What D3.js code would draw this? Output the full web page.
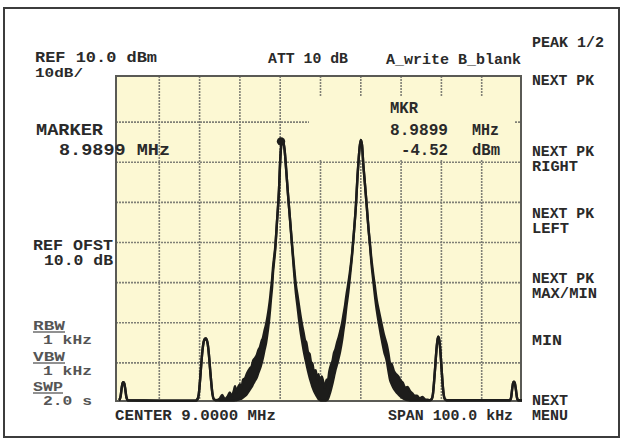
<!DOCTYPE html>
<html>
<head>
<meta charset="utf-8">
<script src="https://cdn.jsdelivr.net/npm/d3@7"></script>
<style>
    body { margin: 0; background: #ffffff; }
    svg { display: block; }
    .lbl { font-family: "Liberation Mono", "DejaVu Sans Mono", monospace; font-weight: bold; }
</style>
</head>
<body>
<svg id="chart"></svg>
<script>
//Trace values: offset from centre in kHz, peak-hold max and min in dBm.
var traceKHz = [-50.0, -49.9, -49.6, -49.3, -49.1, -48.9, -48.7, -48.45, -48.15, -47.8, -40.0, -31.0,
    -30.5, -30.2, -29.9, -29.6, -29.3, -29.0, -28.7, -28.5, -28.3, -28.0, -27.7, -27.4, -27.1, -26.8, -26.5, -26.0,
    -25.0, -24.4, -23.8, -23.0, -22.5, -22.0, -21.5, -21.2, -20.9, -20.5, -20.0, -19.6, -19.2, -18.7, -18.3, -17.9,
    -17.5, -17.1, -16.7, -16.25, -15.8, -15.4, -15.0, -14.6, -14.3, -13.9, -13.5, -13.1, -12.8, -12.5, -12.3, -12.0,
    -11.8, -11.5, -11.3, -10.8, -10.3, -10.05, -9.8, -9.55, -9.3, -8.9, -8.55, -8.05, -7.55, -7.05, -6.6, -6.1,
    -5.7, -5.35, -5.0, -4.6, -4.2, -3.85, -3.5, -3.1, -2.7, -2.35, -2.0, -1.6, -1.2, -0.85, -0.5, -0.1,
    0.3, 0.7, 1.1, 1.5, 1.85, 2.2, 2.6, 3.0, 3.35, 3.7, 4.1, 4.5, 4.85, 5.35, 5.7, 6.1, 6.45, 6.8, 7.3, 7.8,
    8.3, 8.8, 9.2, 9.45, 9.7, 10.0, 10.3, 10.6, 11.05, 11.45, 11.9, 12.3, 12.6, 12.95, 13.45, 13.95, 14.6, 15.2,
    15.8, 16.45, 16.85, 17.25, 17.7, 18.2, 18.75, 19.3, 19.9, 20.45, 21.0, 21.6, 22.2, 22.8, 23.4, 23.95, 24.6,
    25.3, 25.95, 26.6, 27.2, 27.6, 27.9, 28.2, 28.5, 28.75, 29.0, 29.23, 29.45, 29.7, 29.95, 30.25, 30.55, 30.85,
    31.3, 47.0, 47.3, 47.6, 47.8, 48.0, 48.2, 48.45, 48.75, 49.05, 50.0];

var traceMax = [-69.3, -69.2, -68.3, -66.0, -65.0, -64.8, -65.1, -66.5, -68.6, -69.3, -69.4, -69.4,
    -69.0, -67.8, -64.5, -60.5, -57.0, -54.8, -54.0, -53.9, -54.1, -55.2, -57.8, -61.5, -65.0, -67.8, -69.0, -69.3,
    -68.9, -68.0, -69.0, -68.3, -67.4, -68.3, -66.9, -65.8, -67.4, -66.2, -65.4, -66.0, -64.2, -63.8, -62.8, -62.0,
    -61.3, -60.9, -59.4, -58.8, -58.0, -56.8, -56.0, -54.5, -53.8, -52.0, -50.4, -48.2, -46.2, -43.8, -41.8, -39.0,
    -36.4, -33.6, -31.9, -24.9, -16.9, -10.7, -6.4, -4.7, -4.8, -7.0, -11.4, -18.2, -24.4, -30.6, -35.6, -40.6,
    -43.2, -45.6, -48.0, -50.4, -52.4, -54.3, -55.0, -57.3, -57.8, -59.8, -60.2, -62.3, -61.8, -64.0, -62.8, -65.2,
    -63.4, -64.8, -66.2, -64.2, -64.2, -62.0, -60.5, -59.4, -57.5, -56.6, -55.0, -53.7, -52.3, -50.1, -48.0, -45.6, -43.0, -40.8, -37.3, -33.1,
    -27.4, -20.6, -13.2, -9.5, -6.4, -4.45, -5.7, -10.2, -15.7, -20.6, -26.4, -30.6, -33.8, -36.8, -40.6, -44.3, -47.6, -50.5,
    -53.2, -55.5, -57.6, -60.0, -60.4, -62.0, -62.8, -63.4, -64.4, -65.0, -66.2, -66.0, -67.0, -67.6, -68.2, -68.2, -68.9,
    -68.5, -69.1, -69.2, -69.3, -69.0, -67.8, -64.5, -60.5, -57.0, -54.5, -53.5, -54.2, -56.5, -60.0, -64.5, -67.8, -69.0,
    -69.3, -69.3, -68.6, -66.2, -65.0, -64.7, -65.0, -66.4, -68.6, -69.3, -69.3];

var traceMin = [-69.3, -69.2, -68.3, -66.0, -65.0, -64.8, -65.1, -66.5, -68.6, -69.3, -69.4, -69.4,
    -69.0, -67.8, -64.5, -60.5, -57.0, -54.8, -54.0, -53.9, -54.1, -55.2, -57.8, -61.5, -65.0, -67.8, -69.0, -69.3,
    -69.4, -69.4, -69.4, -69.4, -69.4, -69.4, -69.4, -69.3, -69.3, -69.2, -69.0, -68.9, -68.6, -68.2, -67.8, -67.2,
    -66.6, -66.0, -65.2, -64.4, -63.6, -62.4, -61.4, -60.0, -58.8, -56.8, -55.0, -52.2, -49.8, -46.6, -44.2, -41.0,
    -37.8, -34.6, -32.6, -24.9, -16.9, -10.7, -6.4, -4.7, -4.8, -7.0, -11.4, -18.2, -24.4, -31.0, -36.8, -42.6,
    -46.0, -49.0, -51.8, -54.4, -56.8, -58.6, -60.2, -62.0, -63.6, -64.8, -66.0, -67.0, -67.8, -68.4, -69.0, -69.3,
    -69.4, -69.4, -69.4, -69.3, -69.0, -68.0, -66.6, -65.0, -63.4, -61.8, -60.4, -58.8, -57.2, -54.4, -51.8, -49.0, -45.8, -43.2, -38.6, -33.6,
    -27.4, -20.6, -13.2, -9.5, -6.4, -4.45, -5.7, -10.2, -15.7, -20.6, -26.4, -31.0, -34.8, -38.2, -42.8, -46.8, -50.8, -54.2,
    -57.2, -59.6, -62.0, -64.2, -65.4, -66.4, -67.2, -67.8, -68.4, -68.8, -69.1, -69.3, -69.4, -69.4, -69.4, -69.4, -69.4,
    -69.4, -69.4, -69.4, -69.3, -69.0, -67.8, -64.5, -60.5, -57.0, -54.5, -53.5, -54.2, -56.5, -60.0, -64.5, -67.8, -69.0,
    -69.3, -69.3, -68.6, -66.2, -65.0, -64.7, -65.0, -66.4, -68.6, -69.3, -69.3];

//Marker position as drawn on the screen.
var markerKHz = -9.8;
var markerDBm = -4.8;

//Grid divisions (kHz across, dBm down).
var xGrid = [-40, -30, -20, -10, 0, 10, 20, 30, 40];
var yGrid = [0, -10, -20, -30, -40, -50, -60];

//Texts on the screen.
var headerTexts = ["REF 10.0 dBm", "10dB/", "ATT 10 dB", "A_write B_blank"];
var markerTexts = ["MARKER", "8.9899 MHz"];
var readoutTexts = ["MKR", "8.9899", "MHz", "-4.52", "dBm"];
var softKeys = [["PEAK 1/2"], ["NEXT PK"], ["NEXT PK", "RIGHT"], ["NEXT PK", "LEFT"],
    ["NEXT PK", "MAX/MIN"], ["MIN"], ["NEXT", "MENU"]];
var offsetTexts = ["REF OFST", "10.0 dB"];
var bwNames = ["RBW", "VBW", "SWP"];
var bwValues = ["1 kHz", "1 kHz", "2.0 s"];
var footerTexts = ["CENTER 9.0000 MHz", "SPAN 100.0 kHz"];

(function () {

    var width = 623,
        height = 439;

    var svg = d3.select("#chart")
        .attr("width", width)
        .attr("height", height);

    //Scales for the screen: 100 kHz span and 10 dB per division.
    var x = d3.scaleLinear().domain([-50, 50]).range([119, 522]);
    var y = d3.scaleLinear().domain([10, -70]).range([82, 403]);

    var frameLeft = 116, frameRight = 521, frameTop = 76, frameBottom = 401;
    var screenColor = "#fcf8d3";
    var gridColor = "#808076";
    var inkColor = "#1d1d1b";

    //Outer border of the photo.
    svg.append("rect")
        .attr("x", 4)
        .attr("y", 8)
        .attr("width", 615)
        .attr("height", 429)
        .attr("fill", "none")
        .attr("stroke", "#3c3c3c")
        .attr("stroke-width", 2);

    //Screen background.
    svg.append("rect")
        .attr("x", frameLeft)
        .attr("y", frameTop)
        .attr("width", frameRight - frameLeft)
        .attr("height", frameBottom - frameTop)
        .attr("fill", screenColor);

    //Grid lines.
    var grid = svg.append("g")
        .attr("stroke", gridColor)
        .attr("stroke-width", 1.6)
        .attr("stroke-dasharray", "2,1");

    grid.selectAll(".vline")
        .data(xGrid)
        .enter()
        .append("line")
        .attr("class", "vline")
        .attr("x1", function (d) { return x(d); })
        .attr("x2", function (d) { return x(d); })
        .attr("y1", frameTop)
        .attr("y2", frameBottom);

    grid.selectAll(".hline")
        .data(yGrid)
        .enter()
        .append("line")
        .attr("class", "hline")
        .attr("x1", frameLeft)
        .attr("x2", frameRight)
        .attr("y1", function (d) { return y(d); })
        .attr("y2", function (d) { return y(d); });

    //Blank area behind the marker readout.
    svg.append("rect")
        .attr("x", 309)
        .attr("y", 97)
        .attr("width", 206)
        .attr("height", 63)
        .attr("fill", screenColor);

    //Screen frame.
    svg.append("rect")
        .attr("x", frameLeft)
        .attr("y", frameTop)
        .attr("width", frameRight - frameLeft)
        .attr("height", frameBottom - frameTop)
        .attr("fill", "none")
        .attr("stroke", "#5a5a55")
        .attr("stroke-width", 2);

    //Trace: noise band between max and min, then both edges.
    var trace = traceKHz.map(function (f, i) {
        return { f: f, hi: traceMax[i], lo: traceMin[i] };
    });

    svg.append("path")
        .datum(trace)
        .attr("fill", inkColor)
        .attr("d", d3.area()
            .x(function (d) { return x(d.f); })
            .y0(function (d) { return y(d.lo); })
            .y1(function (d) { return y(d.hi); })
            .curve(d3.curveMonotoneX));

    ["hi", "lo"].forEach(function (key) {
        svg.append("path")
            .datum(trace)
            .attr("fill", "none")
            .attr("stroke", inkColor)
            .attr("stroke-width", 2.4)
            .attr("stroke-linejoin", "round")
            .attr("d", d3.line()
                .x(function (d) { return x(d.f); })
                .y(function (d) { return y(d[key]); })
                .curve(d3.curveMonotoneX));
    });

    //Marker dot.
    svg.append("circle")
        .attr("cx", x(markerKHz))
        .attr("cy", y(markerDBm))
        .attr("r", 4.2)
        .attr("fill", inkColor);

    //Writes one text squeezed to the width it has on the screen.
    function addText(str, tx, ty, len, size, color) {
        var t = svg.append("text")
            .attr("class", "lbl")
            .attr("x", tx)
            .attr("y", ty)
            .attr("font-size", size)
            .attr("fill", color || "#2a2a2a")
            .text(str);
        if (len) {
            t.attr("textLength", len).attr("lengthAdjust", "spacingAndGlyphs");
        }
        return t;
    }

    //Header line.
    addText(headerTexts[0], 35, 62, 122, 14);
    addText(headerTexts[1], 35, 77, 48, 13);
    addText(headerTexts[2], 268, 63, 80, 15);
    addText(headerTexts[3], 386, 64, 135, 15);

    //Marker block on the left.
    addText(markerTexts[0], 36, 135, 67, 17);
    addText(markerTexts[1], 59, 155, 111, 17);

    //Marker readout inside the screen.
    addText(readoutTexts[0], 390, 113, 28, 16);
    addText(readoutTexts[1], 390, 135, 58, 16);
    addText(readoutTexts[2], 472, 135, 27, 16);
    addText(readoutTexts[3], 401, 155, 47, 16);
    addText(readoutTexts[4], 472, 155, 28, 16);

    //Soft keys on the right.
    var keyY = [47, 85, 156, 218, 283, 345, 405];
    var keyWidths = {"PEAK 1/2": 72, "NEXT PK": 62, "RIGHT": 46, "LEFT": 37, "MAX/MIN": 65, "MIN": 30, "NEXT": 36, "MENU": 36};
    softKeys.forEach(function (key, i) {
        key.forEach(function (line, j) {
            addText(line, 532, keyY[i] + j * 15, keyWidths[line], key.length > 1 ? 14 : 15);
        });
    });

    //Reference offset.
    addText(offsetTexts[0], 33, 250, 80, 14);
    addText(offsetTexts[1], 44, 265, 69, 14);

    //Bandwidth and sweep settings, names underlined.
    var bwY = [330, 361, 391];
    bwNames.forEach(function (name, i) {
        addText(name, 33, bwY[i], name === "SWP" ? 30 : 32, i === 2 ? 12 : 13, "#555");
        svg.append("line")
            .attr("x1", 33)
            .attr("x2", name === "SWP" ? 63 : 65)
            .attr("y1", bwY[i] + 2)
            .attr("y2", bwY[i] + 2)
            .attr("stroke", "#555")
            .attr("stroke-width", 1.3);
        addText(bwValues[i], 43, bwY[i] + (i === 2 ? 14 : 14), 49, i === 2 ? 12 : 13, "#555");
    });

    //Footer.
    addText(footerTexts[0], 115, 420, 161, 15);
    addText(footerTexts[1], 388, 420, 125, 15);

})();
</script>
</body>
</html>
